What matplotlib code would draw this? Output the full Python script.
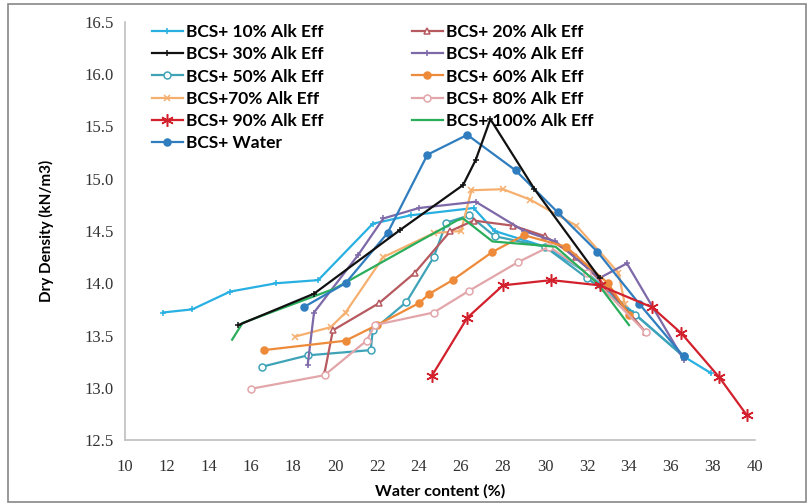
import numpy as np
import matplotlib.pyplot as plt
from matplotlib.patches import Rectangle

# water content (%) and dry density (kN/m3) for each mix
w10 = [11.8, 13.2, 15.0, 17.2, 19.2, 21.8, 23.6, 26.6, 27.6, 30.0, 32.0, 34.2, 36.6, 37.9]
d10 = [13.72, 13.75, 13.92, 14.0, 14.03, 14.57, 14.65, 14.72, 14.5, 14.35, 14.1, 13.72, 13.3, 13.14]

w20 = [19.5, 19.9, 22.1, 23.8, 25.5, 26.6, 28.5, 30.0, 31.5, 33.0, 34.8]
d20 = [13.14, 13.55, 13.81, 14.1, 14.5, 14.6, 14.55, 14.45, 14.25, 13.95, 13.53]

w30 = [15.4, 19.0, 23.1, 26.1, 26.7, 27.4, 29.5, 32.6]
d30 = [13.6, 13.9, 14.51, 14.94, 15.18, 15.57, 14.9, 14.05]

w40 = [18.7, 19.0, 21.1, 22.3, 24.0, 26.7, 29.0, 30.5, 32.6, 33.9, 36.6]
d40 = [13.22, 13.72, 14.27, 14.62, 14.72, 14.78, 14.5, 14.4, 14.05, 14.19, 13.27]

w50 = [16.5, 18.7, 21.7, 21.8, 23.4, 24.7, 25.3, 26.4, 27.6, 30.0, 32.0, 34.3, 36.6]
d50 = [13.2, 13.31, 13.36, 13.55, 13.82, 14.25, 14.58, 14.65, 14.45, 14.35, 14.05, 13.7, 13.3]

w60 = [16.6, 20.5, 22.0, 24.0, 24.5, 25.6, 27.5, 29.0, 31.0, 33.0, 34.0]
d60 = [13.36, 13.45, 13.6, 13.81, 13.9, 14.03, 14.3, 14.46, 14.35, 14.0, 13.7]

w70 = [18.1, 19.8, 20.5, 22.3, 24.7, 26.0, 26.5, 28.0, 29.3, 31.5, 33.5, 33.8]
d70 = [13.49, 13.58, 13.72, 14.25, 14.48, 14.5, 14.89, 14.9, 14.8, 14.55, 14.1, 13.8]

w80 = [16.0, 19.5, 21.5, 21.9, 24.7, 26.4, 28.7, 30.2, 32.0, 34.8]
d80 = [12.99, 13.12, 13.45, 13.6, 13.72, 13.93, 14.2, 14.35, 14.1, 13.53]

w90 = [24.6, 26.3, 28.0, 30.3, 32.6, 35.1, 36.5, 38.3, 39.6]
d90 = [13.11, 13.67, 13.98, 14.03, 13.98, 13.77, 13.52, 13.1, 12.74]

w100 = [15.1, 15.6, 20.0, 24.0, 25.8, 26.1, 27.5, 30.5, 32.5, 34.0]
d100 = [13.46, 13.62, 13.95, 14.4, 14.6, 14.62, 14.4, 14.35, 14.0, 13.6]

ww = [18.5, 20.5, 22.5, 24.4, 26.3, 28.6, 30.6, 32.5, 34.5, 36.6]
dw = [13.77, 14.0, 14.48, 15.23, 15.42, 15.08, 14.68, 14.3, 13.8, 13.3]

xticks = np.arange(10, 41, 2)
yticks = np.arange(12.5, 16.51, 0.5)

# (label, x, y, color, marker, filled)
series = [
    ('BCS+ 10% Alk Eff', w10, d10, '#29B0E2', '+', True),
    ('BCS+ 30% Alk Eff', w30, d30, '#111111', '+', True),
    ('BCS+ 50% Alk Eff', w50, d50, '#3FA3B8', 'o', False),
    ('BCS+70% Alk Eff', w70, d70, '#F5B070', 'x', True),
    ('BCS+ 90% Alk Eff', w90, d90, '#D2202C', (6, 2, 0), True),
    ('BCS+ Water', ww, dw, '#2F7DBF', 'o', True),
    ('BCS+ 20% Alk Eff', w20, d20, '#B65A60', '^', False),
    ('BCS+ 40% Alk Eff', w40, d40, '#7D68A8', '+', True),
    ('BCS+ 60% Alk Eff', w60, d60, '#EE8B3A', 'o', True),
    ('BCS+ 80% Alk Eff', w80, d80, '#E2A6AA', 'o', False),
    ('BCS+ 100% Alk Eff', w100, d100, '#2BAE5C', '', True),
]

fig = plt.figure(figsize=(8.12, 5.04), dpi=100)
ax = fig.add_axes([125/812, 1-440/504, 630/812, 418/504])

# draw order: keep the light ones under the dark ones
zorders = {'BCS+ Water': 4, 'BCS+ 30% Alk Eff': 5, 'BCS+ 90% Alk Eff': 5}
for lab, x, y, c, m, filled in series:
    ms = 9 if m == (6, 2, 0) else 5
    ax.plot(x, y, color=c, lw=1.6, marker=m, ms=ms,
            mfc=c if filled else 'white', mec=c, mew=1.1,
            label=lab, zorder=zorders.get(lab, 3))

ax.set_xlim(10, 40)
ax.set_ylim(12.5, 16.5)
ax.set_xticks(xticks)
ax.set_yticks(yticks)
ax.set_yticklabels([f'{v:.1f}' for v in yticks])
ax.tick_params(length=0, labelsize=12, colors='#333333')
ax.tick_params(axis='x', pad=14)
ax.tick_params(axis='y', pad=8)
for lbl in ax.get_xticklabels() + ax.get_yticklabels():
    lbl.set_family('Liberation Serif')
for s in ['top', 'right']:
    ax.spines[s].set_visible(False)
for s in ['left', 'bottom']:
    ax.spines[s].set_color('#BFBFBF')
    ax.spines[s].set_linewidth(1.2)

ax.set_xlabel('Water content (%)', fontsize=11.5, fontweight='bold', family='Lato', labelpad=6)
ax.set_ylabel('Dry Density (kN/m3)', fontsize=11, fontweight='bold', family='Lato', labelpad=22)

ax.legend(loc='upper left', bbox_to_anchor=(0.026, 1.02), ncol=2, frameon=False,
          prop={'weight': 'bold', 'size': 12.5, 'family': 'Lato'},
          handlelength=1.8, handletextpad=0.15, columnspacing=5.1,
          labelspacing=0.36, borderaxespad=0.2)

fig.patches.append(Rectangle((8/812, 2/504), 798/812, 498/504, transform=fig.transFigure,
                             fill=False, edgecolor='#888888', lw=1.2))

fig.savefig('out.png', dpi=100)
